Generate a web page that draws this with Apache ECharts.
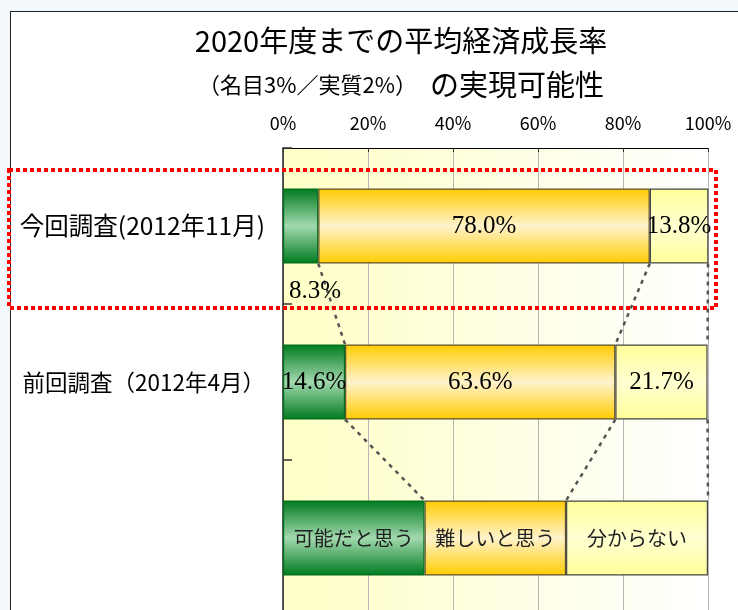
<!DOCTYPE html>
<html>
<head>
<meta charset="utf-8">
<script src="https://cdn.jsdelivr.net/npm/echarts@6/dist/echarts.min.js"></script>
<style>
  html, body { margin: 0; padding: 0; background: #F3F8FC; }
  #wrap { position: relative; width: 738px; height: 610px; overflow: hidden; background: #F3F8FC; }
  #frame { position: absolute; left: 10px; top: 11px; width: 760px; height: 640px; background: #ffffff; border-left: 1.5px solid #222; border-top: 1.5px solid #222; }
  #chart { position: absolute; left: 0; top: 0; width: 738px; height: 610px; }
</style>
</head>
<body>
<div id="wrap">
  <div id="frame"></div>
  <div id="chart"></div>
</div>
<script>
// ---- data ----
const categories = ['今回調査(2012年11月)', '前回調査（2012年4月）', ''];
const seriesNames = ['可能だと思う', '難しいと思う', '分からない'];
const possible  = [8.3, 14.6, 33.3];
const difficult = [78.0, 63.6, 33.3];
const unknown   = [13.8, 21.7, 33.4];
const xTickLabels = ['0%', '20%', '40%', '60%', '80%', '100%'];
const legendRow = 2;

// ---- styles ----
const SANS = '"Noto Sans CJK JP", "Noto Sans", sans-serif';
const SERIF = '"Liberation Serif", "DejaVu Serif", serif';
const BAR_W = 75;

function vgrad(edge, mid) {
  return { type: 'linear', x: 0, y: 0, x2: 0, y2: 1,
    colorStops: [{ offset: 0, color: edge }, { offset: 0.5, color: mid }, { offset: 1, color: edge }] };
}
const fills = [vgrad('#007A1E', '#A2D9AE'), vgrad('#FFCC00', '#FFF3CC'), vgrad('#FFFF99', '#FFFFD2')];
const borders = ['#006F1A', '#5A5030', '#444444'];
const seriesValues = [possible, difficult, unknown];

function buildData(vals, sIdx) {
  return vals.map(function (v, i) {
    if (i === legendRow) {
      return { value: v, label: { formatter: seriesNames[sIdx], fontFamily: SANS, fontSize: 20, color: '#222' } };
    }
    if (sIdx === 0 && i === 0) {
      return { value: v, label: { position: [6, 103], align: 'left', verticalAlign: 'middle' } };
    }
    return v;
  });
}

const barSeries = seriesValues.map(function (vals, s) {
  return {
    name: seriesNames[s], type: 'bar', stack: 'total', barWidth: BAR_W,
    itemStyle: { color: fills[s], borderColor: borders[s], borderWidth: 1.2 },
    label: { show: true, position: 'inside', fontFamily: SERIF, fontSize: 25, color: '#000',
      formatter: function (p) { return p.value.toFixed(1) + '%'; } },
    data: buildData(vals, s),
    z: 3
  };
});

// series (connector) lines between boundaries of consecutive rows
const connectors = [];
for (let k = 0; k < 3; k++) {
  for (let r = 0; r < legendRow; r++) {
    let c1 = 0, c2 = 0;
    for (let j = 0; j <= k; j++) { c1 += seriesValues[j][r]; c2 += seriesValues[j][r + 1]; }
    connectors.push([Math.min(100, c1), r, Math.min(100, c2), r + 1]);
  }
}

const chart = echarts.init(document.getElementById('chart'), null, { renderer: 'canvas' });
chart.setOption({
  backgroundColor: 'transparent',
  animation: false,
  title: {
    left: 396, top: 14, textAlign: 'center',
    text: '{a|2020年度までの平均経済成長率}\n{b|（名目3%／実質2%）}{c|  の実現可能性}',
    textStyle: {
      rich: {
        a: { fontFamily: SANS, fontSize: 29, fontWeight: 'normal', color: '#000', lineHeight: 44 },
        b: { fontFamily: SANS, fontSize: 22, fontWeight: 'normal', color: '#000', lineHeight: 44 },
        c: { fontFamily: SANS, fontSize: 29, fontWeight: 'normal', color: '#000', lineHeight: 44 }
      }
    }
  },
  grid: {
    left: 283, right: 30, top: 148, height: 468, containLabel: false,
    outerBoundsMode: 'none',
    show: true, borderWidth: 0,
    backgroundColor: { type: 'linear', x: 0, y: 0, x2: 1, y2: 0,
      colorStops: [{ offset: 0, color: '#FFFFC6' }, { offset: 1, color: '#FFFFFF' }] }
  },
  xAxis: {
    type: 'value', position: 'top', min: 0, max: 100, interval: 20,
    axisLine: { show: true, lineStyle: { color: '#000', width: 1 } },
    axisTick: { show: true, inside: true, length: 4, lineStyle: { color: '#333' } },
    axisLabel: { margin: 16, fontFamily: SANS, fontSize: 18, color: '#000',
      formatter: function (v) { return xTickLabels[Math.round(v / 20)]; } },
    splitLine: { show: true, lineStyle: { color: '#B8B8B8', width: 1 } }
  },
  yAxis: {
    type: 'category', inverse: true, data: categories,
    axisLine: { show: true, lineStyle: { color: '#222', width: 1.5 } },
    axisTick: { show: true, inside: true, length: 9, lineStyle: { color: '#333', width: 1.5 } },
    axisLabel: {
      margin: 18, fontFamily: SANS, color: '#000',
      formatter: function (v, i) { return i === 0 ? '{p|' + v + '}' : '{q|' + v + '}'; },
      rich: {
        p: { fontFamily: SANS, fontSize: 24.5, color: '#000' },
        q: { fontFamily: SANS, fontSize: 22.5, color: '#000' }
      }
    }
  },
  series: barSeries.concat([{
    type: 'custom', z: 2, silent: true,
    encode: { x: [0, 2], y: [1, 3] },
    data: connectors,
    renderItem: function (params, api) {
      const p1 = api.coord([api.value(0), api.value(1)]);
      const p2 = api.coord([api.value(2), api.value(3)]);
      return {
        type: 'line',
        shape: { x1: p1[0], y1: p1[1] + BAR_W / 2, x2: p2[0], y2: p2[1] - BAR_W / 2 },
        style: { stroke: '#555', lineWidth: 2.5, lineDash: [4, 5] }
      };
    }
  }]),
  graphic: [{
    type: 'rect', z: 100, silent: true,
    shape: { x: 9, y: 170, width: 707, height: 138 },
    style: { fill: null, stroke: '#FF0000', lineWidth: 4, lineDash: [4, 3] }
  }]
});
</script>
</body>
</html>
